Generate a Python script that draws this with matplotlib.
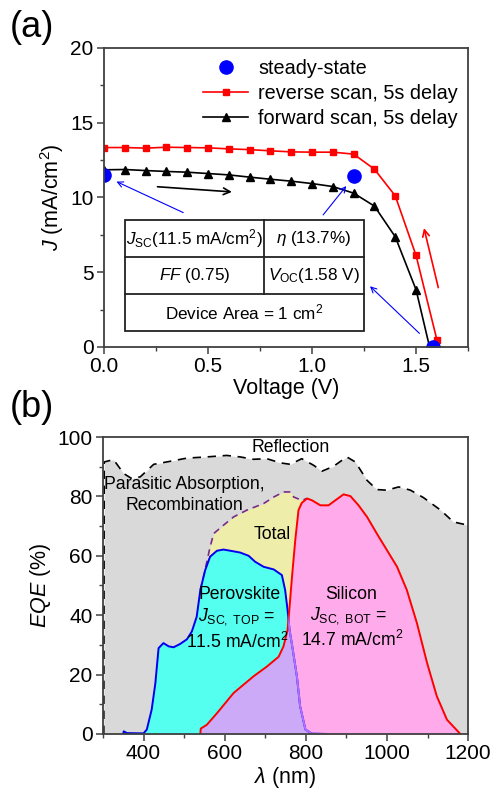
import matplotlib.pyplot as plt
import matplotlib.patches as mpatches
from matplotlib.ticker import MultipleLocator
import numpy as np

plt.rcParams['font.family'] = ['Liberation Sans', 'DejaVu Sans']
plt.rcParams['mathtext.fontset'] = 'custom'
plt.rcParams['mathtext.rm'] = 'Liberation Sans'
plt.rcParams['mathtext.it'] = 'Liberation Sans:italic'
plt.rcParams['mathtext.bf'] = 'Liberation Sans:bold'

# ---- panel (a) data: J-V curves ----
v_rev = [0.0, 0.1, 0.2, 0.3, 0.4, 0.5, 0.6, 0.7, 0.8, 0.9, 1.0, 1.1, 1.2, 1.3, 1.4, 1.5, 1.6]
j_rev = [13.34, 13.34, 13.30, 13.36, 13.34, 13.32, 13.25, 13.20, 13.12, 13.05, 13.03, 13.03, 12.90, 11.89, 10.11, 6.12, 0.49]
v_fwd = [0.0, 0.1, 0.2, 0.3, 0.4, 0.5, 0.6, 0.7, 0.8, 0.9, 1.0, 1.1, 1.2, 1.3, 1.4, 1.5, 1.565]
j_fwd = [11.85, 11.87, 11.80, 11.74, 11.69, 11.60, 11.51, 11.36, 11.22, 11.09, 10.93, 10.73, 10.29, 9.42, 7.37, 3.83, 0.0]
v_ss = [0.0, 1.2, 1.58]
j_ss = [11.51, 11.42, 0.0]

# ---- panel (b) data: EQE spectra ----
wl_refl = [302, 303, 326, 351, 371, 392, 425, 457, 507, 556, 605, 638, 671, 704, 737, 762, 790, 819, 840, 868,
           901, 922, 951, 975, 1000, 1029, 1058, 1090, 1132, 1164, 1200]
eqe_refl = [0, 91.6, 92.4, 87.7, 86.0, 86.6, 90.8, 91.6, 92.9, 93.3, 93.8, 93.3, 92.5, 92.7, 91.3, 90.8, 92.7, 90.5, 88.5, 90.1,
            93.3, 91.6, 85.4, 82.3, 82.1, 83.2, 82.1, 79.6, 75.4, 71.4, 70.3]

wl_pero = [350, 351, 359, 400, 408, 420, 429, 437, 449, 462, 474, 490, 507, 519, 531, 540, 552, 564, 581, 597,
           614, 638, 659, 675, 696, 721, 741, 749, 755, 760, 768, 778, 786, 799, 815, 852]
eqe_pero = [0, 0.9, 0.3, 0.2, 1.5, 8.2, 17.0, 28.9, 30.6, 29.5, 29.2, 30.3, 31.9, 34.5, 39.5, 48.5, 55.2, 59.7, 61.7, 62.1,
            61.7, 61.1, 60.0, 58.0, 56.3, 55.4, 53.5, 48.5, 41.8, 35.0, 28.3, 19.4, 9.3, 1.5, 0.1, 0]

wl_si = [540, 541, 556, 581, 622, 671, 704, 733, 745, 755, 760, 766, 774, 782, 790, 803, 815, 836, 856, 873,
         893, 910, 930, 951, 975, 1000, 1025, 1049, 1074, 1099, 1123, 1148, 1181]
eqe_si = [0, 1.8, 3.1, 7.0, 13.8, 19.4, 22.7, 26.0, 29.5, 35.0, 42.9, 53.0, 65.3, 75.4, 77.8, 79.3, 78.7, 77.0, 77.0, 78.7,
          80.7, 80.1, 77.0, 73.1, 67.5, 61.9, 56.3, 48.5, 37.3, 23.9, 12.7, 4.8, 0]

wl_total = [540, 548, 564, 573, 597, 622, 655, 696, 721, 745, 762, 770, 790, 803]
eqe_total = [48.5, 53.0, 63.0, 67.5, 70.3, 73.1, 75.4, 77.6, 79.8, 81.5, 81.5, 79.8, 78.7, 79.3]

fig = plt.figure(figsize=(4.94, 7.94), dpi=100)

# ================= (a) =================
ax1 = fig.add_axes([0.2105, 0.563, 0.737, 0.3766])
ax1.plot(v_rev, j_rev, color='red', marker='s', ms=4.8, lw=1.2, label='reverse scan, 5s delay', zorder=3)
ax1.plot(v_fwd[:-1], j_fwd[:-1], color='black', marker='^', ms=5.5, lw=1.2, zorder=3)
ax1.plot(v_fwd[-2:], j_fwd[-2:], color='black', lw=1.2, zorder=3)
ax1.plot([], [], color='black', marker='^', ms=5.5, lw=1.2, label='forward scan, 5s delay')
ax1.plot(v_ss, j_ss, 'o', color='#0000ff', ms=9.5, ls='none', label='steady-state', zorder=4)

ax1.set_xlim(0, 1.75)
ax1.set_ylim(0, 20)
ax1.xaxis.set_major_locator(MultipleLocator(0.5))
ax1.xaxis.set_minor_locator(MultipleLocator(0.25))
ax1.yaxis.set_major_locator(MultipleLocator(5))
ax1.yaxis.set_minor_locator(MultipleLocator(2.5))
ax1.set_xlabel('Voltage (V)', fontsize=15.5, labelpad=1)
ax1.set_ylabel(r'$\mathit{J}$ (mA/cm$^2$)', fontsize=15.5, labelpad=3)

h, l = ax1.get_legend_handles_labels()
order = [2, 0, 1]
ax1.legend([h[i] for i in order], [l[i] for i in order], loc='upper right', frameon=False,
           fontsize=14.3, handlelength=2.3, handletextpad=0.5, borderaxespad=0.2, labelspacing=0.3,
           borderpad=0.3, bbox_to_anchor=(1.0, 0.995))

# arrows
ax1.annotate('', xy=(0.628, 10.36), xytext=(0.244, 10.73),
             arrowprops=dict(arrowstyle='->', color='black', lw=1.2, mutation_scale=12))
ax1.annotate('', xy=(1.535, 8.13), xytext=(1.61, 3.79),
             arrowprops=dict(arrowstyle='->', color='red', lw=1.2, mutation_scale=12))
for (x0, y0, x1, y1) in [(0.393, 8.91, 0.048, 11.14), (1.045, 8.69, 1.173, 10.91), (1.526, 0.78, 1.269, 4.19)]:
    ax1.annotate('', xy=(x1, y1), xytext=(x0, y0),
                 arrowprops=dict(arrowstyle='->', color='#0000ff', lw=0.8, mutation_scale=10))

# parameter table
tx0, tx1, tmid = 0.0994, 1.248, 0.769
ty0, ty1, ty2, ty3 = 1.05, 3.52, 6.01, 8.51
ax1.add_patch(mpatches.Rectangle((tx0, ty0), tx1 - tx0, ty3 - ty0, fill=True, fc='white', ec='#222222',
                                 lw=1.3, zorder=5))
ax1.plot([tx0, tx1], [ty1, ty1], color='#222222', lw=1.3, zorder=6)
ax1.plot([tx0, tx1], [ty2, ty2], color='#222222', lw=1.3, zorder=6)
ax1.plot([tmid, tmid], [ty1, ty3], color='#222222', lw=1.3, zorder=6)
cell_fs = 12.3
ax1.text((tx0 + tmid) / 2, (ty2 + ty3) / 2, r'$\mathit{J}_{\mathrm{SC}}$(11.5 mA/cm$^2$)', ha='center', va='center',
         fontsize=cell_fs, zorder=7)
ax1.text((tmid + tx1) / 2, (ty2 + ty3) / 2, r'$\eta$ (13.7%)', ha='center', va='center', fontsize=cell_fs, zorder=7)
ax1.text((tx0 + tmid) / 2, (ty1 + ty2) / 2, r'$\mathit{FF}$ (0.75)', ha='center', va='center', fontsize=cell_fs,
         zorder=7)
ax1.text((tmid + tx1) / 2, (ty1 + ty2) / 2, r'$\mathit{V}_{\mathrm{OC}}$(1.58 V)', ha='center', va='center',
         fontsize=cell_fs, zorder=7)
ax1.text((tx0 + tx1) / 2, (ty0 + ty1) / 2, r'Device Area = 1 cm$^2$', ha='center', va='center', fontsize=cell_fs,
         zorder=7)

# ================= (b) =================
ax2 = fig.add_axes([0.2085, 0.0756, 0.739, 0.374])
ax2.fill_between(wl_refl, 0, eqe_refl, color='#d9d9d9', lw=0, zorder=1)
ax2.plot(wl_refl, eqe_refl, color='black', ls=(0, (5, 4)), lw=1.2, zorder=2)
ax2.fill_between(wl_total, 0, eqe_total, color='#eeeeaa', lw=0, zorder=2)
ax2.plot(wl_total, eqe_total, color='#7a2a8a', ls=(0, (4, 3)), lw=1.2, zorder=2.5)

pero_poly = ax2.fill_between(wl_pero, 0, eqe_pero, color='#55fff0', lw=0, zorder=3)
si_poly = ax2.fill_between(wl_si, 0, eqe_si, color='#ffaaea', lw=0, zorder=3)
overlap = ax2.fill_between(wl_si, 0, eqe_si, color='#ccaaf7', lw=0, zorder=3.5)
pero_path = pero_poly.get_paths()[0]
overlap.set_clip_path(pero_path, ax2.transData)

ax2.plot(wl_pero, eqe_pero, color='#0000ee', lw=1.4, zorder=4)
si_line, = ax2.plot(wl_si, eqe_si, color='red', lw=1.4, zorder=4)
pero_in_si, = ax2.plot(wl_pero, eqe_pero, color='#b070ff', lw=1.4, zorder=4.5)
pero_in_si.set_clip_path(si_poly.get_paths()[0], ax2.transData)

ax2.set_xlim(300, 1200)
ax2.set_ylim(0, 100)
ax2.xaxis.set_major_locator(MultipleLocator(200))
ax2.xaxis.set_minor_locator(MultipleLocator(100))
ax2.yaxis.set_major_locator(MultipleLocator(20))
ax2.yaxis.set_minor_locator(MultipleLocator(10))
ax2.set_xlabel(r'$\mathit{\lambda}$ (nm)', fontsize=15.5, labelpad=1)
ax2.set_ylabel(r'$\mathit{EQE}$ (%)', fontsize=15.5, labelpad=3)

tfs = 12.7
ax2.text(763, 96.6, 'Reflection', ha='center', va='center', fontsize=tfs, zorder=6)
ax2.text(501, 84, 'Parasitic Absorption,', ha='center', va='center', fontsize=tfs, zorder=6)
ax2.text(501, 76.8, 'Recombination', ha='center', va='center', fontsize=tfs, zorder=6)
ax2.text(716, 67.3, 'Total', ha='center', va='center', fontsize=tfs, zorder=6)
ax2.text(637, 46.8, 'Perovskite', ha='center', va='center', fontsize=tfs, zorder=6)
ax2.text(630, 39.5, r'$\mathit{J}_{\mathrm{SC,\ TOP}}$ =', ha='center', va='center', fontsize=tfs, zorder=6)
ax2.text(630, 31.1, r'11.5 mA/cm$^2$', ha='center', va='center', fontsize=tfs, zorder=6)
ax2.text(912, 47.1, 'Silicon', ha='center', va='center', fontsize=tfs, zorder=6)
ax2.text(906, 39.8, r'$\mathit{J}_{\mathrm{SC,\ BOT}}$ =', ha='center', va='center', fontsize=tfs, zorder=6)
ax2.text(914, 31.5, r'14.7 mA/cm$^2$', ha='center', va='center', fontsize=tfs, zorder=6)

for ax in (ax1, ax2):
    for s in ax.spines.values():
        s.set_color('#404040')
        s.set_linewidth(1.3)
        s.set_zorder(8)
    ax.tick_params(which='major', direction='out', length=5, width=1.1, labelsize=15, color='#404040',
                   top=False, right=False, pad=2.5)
    ax.tick_params(which='minor', direction='out', length=3, width=1.0, color='#404040', top=False, right=False)

fig.text(0.02, 0.965, '(a)', fontsize=26, va='center', ha='left')
fig.text(0.02, 0.487, '(b)', fontsize=26, va='center', ha='left')

fig.savefig('out.png', dpi=100)
